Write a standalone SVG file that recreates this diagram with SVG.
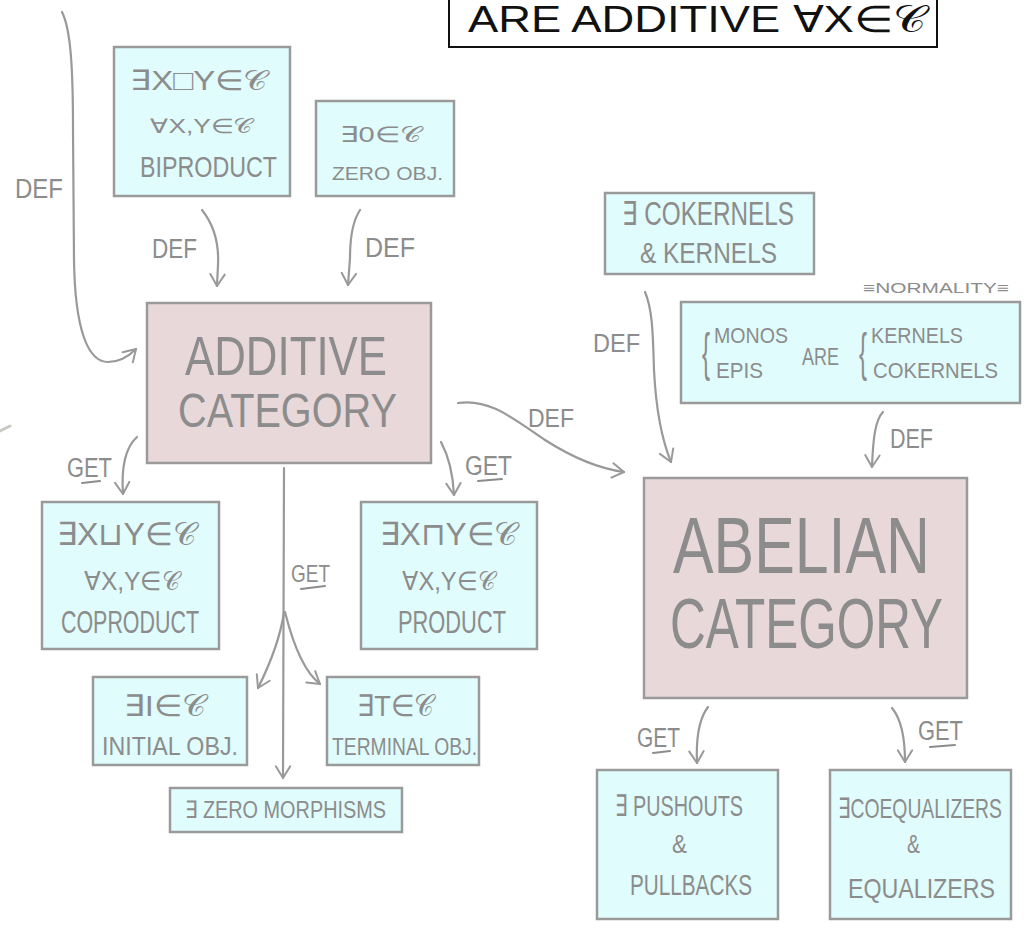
<svg xmlns="http://www.w3.org/2000/svg" width="1026" height="929" viewBox="0 0 1026 929">
  <style>
    .t { font-family: "Liberation Sans Narrow", "Liberation Sans", sans-serif; fill: #8c8c8c; }
    .k { font-family: "Liberation Sans Narrow", "Liberation Sans", sans-serif; fill: #111; }
    .cyan { fill: #e0fcfc; stroke: #9a9a9a; stroke-width: 2.5; }
    .pink { fill: #e8d8d9; stroke: #9a9a9a; stroke-width: 2.5; }
    .edge { fill: none; stroke: #999; stroke-width: 2.2; stroke-linecap: round; marker-end: url(#head); }
    .ul { fill: none; stroke: #8c8c8c; stroke-width: 2; stroke-linecap: round; }
  </style>
  <defs>
    <marker id="head" viewBox="0 0 20 20" refX="17" refY="10" markerWidth="18" markerHeight="18" markerUnits="userSpaceOnUse" orient="auto">
      <path d="M4,2 L17,10 L4,18" fill="none" stroke="#999" stroke-width="2.2" stroke-linecap="round" stroke-linejoin="round"/>
    </marker>
  </defs>
  <rect width="1026" height="929" fill="#fff"/>

  <!-- stray pencil mark -->
  <path d="M0,431 L10,426" stroke="#c9c9c2" stroke-width="3" stroke-linecap="round"/>

  <!-- heading box -->
  <g id="heading">
    <rect x="449" y="-3" width="488" height="50" fill="#fff" stroke="#111" stroke-width="2"/>
    <text class="k" x="468" y="32" font-size="37" textLength="458" lengthAdjust="spacingAndGlyphs">ARE ADDITIVE ∀X∈𝒞</text>
  </g>

  <g id="connectors">
    <g id="e-left-def">
      <path class="edge" d="M62,12 C71,30 73,70 73,130 L74,260 C75,330 88,362 108,362 C120,362 129,356 136,349"/>
      <text class="t" x="15" y="198" font-size="28" textLength="48" lengthAdjust="spacingAndGlyphs">DEF</text>
    </g>
    <g id="e-biproduct-def">
      <path class="edge" d="M202,210 C214,225 219,245 218,265 L217,286"/>
      <text class="t" x="152" y="258" font-size="28" textLength="45" lengthAdjust="spacingAndGlyphs">DEF</text>
    </g>
    <g id="e-zero-def">
      <path class="edge" d="M360,210 C352,222 350,240 350,258 L348,285"/>
      <text class="t" x="365" y="257" font-size="28" textLength="50" lengthAdjust="spacingAndGlyphs">DEF</text>
    </g>
    <g id="e-additive-abelian">
      <path class="edge" d="M458,403 C490,398 515,420 545,440 C570,456 595,468 624,472"/>
      <text class="t" x="528" y="427" font-size="26" textLength="46" lengthAdjust="spacingAndGlyphs">DEF</text>
    </g>
    <g id="e-cokernels-def">
      <path class="edge" d="M645,292 C653,310 653,340 654,370 C656,410 662,440 671,462"/>
      <text class="t" x="593" y="352" font-size="26" textLength="47" lengthAdjust="spacingAndGlyphs">DEF</text>
    </g>
    <g id="e-normality-def">
      <path class="edge" d="M883,412 C875,420 873,440 872,467"/>
      <text class="t" x="890" y="448" font-size="27" textLength="43" lengthAdjust="spacingAndGlyphs">DEF</text>
    </g>
    <g id="e-coproduct-get">
      <path class="edge" d="M137,437 C126,447 121,465 123,494"/>
      <text class="t" x="67" y="477" font-size="27" textLength="45" lengthAdjust="spacingAndGlyphs">GET</text>
      <path class="ul" d="M82,483 L100,481"/>
    </g>
    <g id="e-product-get">
      <path class="edge" d="M441,442 C448,455 453,475 454,495"/>
      <text class="t" x="465" y="475" font-size="27" textLength="47" lengthAdjust="spacingAndGlyphs">GET</text>
      <path class="ul" d="M478,481 L502,479"/>
    </g>
    <g id="e-additive-get">
      <path class="edge" d="M284,468 L283,778"/>
      <path class="edge" d="M284,612 C280,640 268,668 258,688"/>
      <path class="edge" d="M285,612 C292,640 302,670 320,684"/>
      <text class="t" x="291" y="582" font-size="24" textLength="39" lengthAdjust="spacingAndGlyphs">GET</text>
      <path class="ul" d="M301,589 L325,586"/>
    </g>
    <g id="e-abelian-get-left">
      <path class="edge" d="M708,707 C698,720 696,740 697,763"/>
      <text class="t" x="637" y="747" font-size="27" textLength="43" lengthAdjust="spacingAndGlyphs">GET</text>
      <path class="ul" d="M653,753 L670,751"/>
    </g>
    <g id="e-abelian-get-right">
      <path class="edge" d="M892,708 C902,720 905,740 905,762"/>
      <text class="t" x="918" y="740" font-size="27" textLength="45" lengthAdjust="spacingAndGlyphs">GET</text>
      <path class="ul" d="M930,747 L955,745"/>
    </g>
  </g>

  <g id="biproduct">
    <rect class="cyan" x="114" y="47" width="176" height="149"/>
    <text class="t" x="130" y="90" font-size="28" textLength="137" lengthAdjust="spacingAndGlyphs">∃X□Y∈𝒞</text>
    <text class="t" x="150" y="133" font-size="20" textLength="103" lengthAdjust="spacingAndGlyphs">∀X,Y∈𝒞</text>
    <text class="t" x="140" y="177" font-size="30" textLength="137" lengthAdjust="spacingAndGlyphs">BIPRODUCT</text>
  </g>

  <g id="zero-object">
    <rect class="cyan" x="316" y="101" width="138" height="95"/>
    <text class="t" x="340" y="142" font-size="22" textLength="81" lengthAdjust="spacingAndGlyphs">∃0∈𝒞</text>
    <text class="t" x="332" y="180" font-size="18" textLength="111" lengthAdjust="spacingAndGlyphs">ZERO OBJ.</text>
  </g>

  <g id="additive">
    <rect class="pink" x="147" y="303" width="284" height="160"/>
    <text class="t" x="185" y="375" font-size="56" textLength="202" lengthAdjust="spacingAndGlyphs">ADDITIVE</text>
    <text class="t" x="178" y="427" font-size="48" textLength="219" lengthAdjust="spacingAndGlyphs">CATEGORY</text>
  </g>

  <g id="coproduct">
    <rect class="cyan" x="42" y="502" width="177" height="147"/>
    <text class="t" x="57" y="545" font-size="32" textLength="139" lengthAdjust="spacingAndGlyphs">∃X⊔Y∈𝒞</text>
    <text class="t" x="84" y="590" font-size="26" textLength="96" lengthAdjust="spacingAndGlyphs">∀X,Y∈𝒞</text>
    <text class="t" x="61" y="633" font-size="31" textLength="138" lengthAdjust="spacingAndGlyphs">COPRODUCT</text>
  </g>

  <g id="product">
    <rect class="cyan" x="361" y="502" width="176" height="147"/>
    <text class="t" x="380" y="545" font-size="32" textLength="137" lengthAdjust="spacingAndGlyphs">∃X⊓Y∈𝒞</text>
    <text class="t" x="402" y="590" font-size="26" textLength="93" lengthAdjust="spacingAndGlyphs">∀X,Y∈𝒞</text>
    <text class="t" x="398" y="633" font-size="31" textLength="108" lengthAdjust="spacingAndGlyphs">PRODUCT</text>
  </g>

  <g id="initial-object">
    <rect class="cyan" x="93" y="677" width="154" height="88"/>
    <text class="t" x="124" y="716" font-size="30" textLength="82" lengthAdjust="spacingAndGlyphs">∃I∈𝒞</text>
    <text class="t" x="102" y="755" font-size="26" textLength="136" lengthAdjust="spacingAndGlyphs">INITIAL OBJ.</text>
  </g>

  <g id="terminal-object">
    <rect class="cyan" x="327" y="677" width="152" height="88"/>
    <text class="t" x="357" y="716" font-size="30" textLength="77" lengthAdjust="spacingAndGlyphs">∃T∈𝒞</text>
    <text class="t" x="332" y="755" font-size="23" textLength="145" lengthAdjust="spacingAndGlyphs">TERMINAL OBJ.</text>
  </g>

  <g id="zero-morphisms">
    <rect class="cyan" x="170" y="788" width="232" height="44"/>
    <text class="t" x="185" y="818" font-size="24" textLength="201" lengthAdjust="spacingAndGlyphs">∃ ZERO MORPHISMS</text>
  </g>

  <g id="kernels">
    <rect class="cyan" x="605" y="193" width="209" height="81"/>
    <text class="t" x="622" y="225" font-size="33" textLength="172" lengthAdjust="spacingAndGlyphs">∃ COKERNELS</text>
    <text class="t" x="640" y="263" font-size="30" textLength="137" lengthAdjust="spacingAndGlyphs">&amp; KERNELS</text>
  </g>

  <g id="normality">
    <text class="t" x="863" y="293" font-size="15" textLength="146" lengthAdjust="spacingAndGlyphs">≡NORMALITY≡</text>
    <rect class="cyan" x="681" y="302" width="339" height="101"/>
    <text class="t" x="702" y="370" font-size="52" textLength="8" lengthAdjust="spacingAndGlyphs">{</text>
    <text class="t" x="714" y="343" font-size="22" textLength="74" lengthAdjust="spacingAndGlyphs">MONOS</text>
    <text class="t" x="716" y="378" font-size="22" textLength="47" lengthAdjust="spacingAndGlyphs">EPIS</text>
    <text class="t" x="802" y="365" font-size="23" textLength="37" lengthAdjust="spacingAndGlyphs">ARE</text>
    <text class="t" x="859" y="370" font-size="52" textLength="8" lengthAdjust="spacingAndGlyphs">{</text>
    <text class="t" x="871" y="343" font-size="22" textLength="92" lengthAdjust="spacingAndGlyphs">KERNELS</text>
    <text class="t" x="873" y="378" font-size="22" textLength="125" lengthAdjust="spacingAndGlyphs">COKERNELS</text>
  </g>

  <g id="abelian">
    <rect class="pink" x="644" y="478" width="323" height="220"/>
    <!-- tall lettering: narrower face stretched vertically -->
    <text class="t" transform="translate(673,573) scale(1,1.2)" x="0" y="0" font-size="66" textLength="257" lengthAdjust="spacingAndGlyphs">ABELIAN</text>
    <text class="t" transform="translate(670,648) scale(1,1.2)" x="0" y="0" font-size="58" textLength="273" lengthAdjust="spacingAndGlyphs">CATEGORY</text>
  </g>

  <g id="pushouts">
    <rect class="cyan" x="597" y="770" width="181" height="149"/>
    <text class="t" x="615" y="816" font-size="30" textLength="128" lengthAdjust="spacingAndGlyphs">∃ PUSHOUTS</text>
    <text class="t" x="672" y="853" font-size="26" textLength="15" lengthAdjust="spacingAndGlyphs">&amp;</text>
    <text class="t" x="630" y="895" font-size="30" textLength="122" lengthAdjust="spacingAndGlyphs">PULLBACKS</text>
  </g>

  <g id="coequalizers">
    <rect class="cyan" x="830" y="770" width="181" height="149"/>
    <text class="t" transform="translate(838,818) scale(1,1.25)" x="0" y="0" font-size="22" textLength="164" lengthAdjust="spacingAndGlyphs">∃COEQUALIZERS</text>
    <text class="t" x="907" y="853" font-size="26" textLength="13" lengthAdjust="spacingAndGlyphs">&amp;</text>
    <text class="t" x="848" y="898" font-size="28" textLength="147" lengthAdjust="spacingAndGlyphs">EQUALIZERS</text>
  </g>
</svg>
